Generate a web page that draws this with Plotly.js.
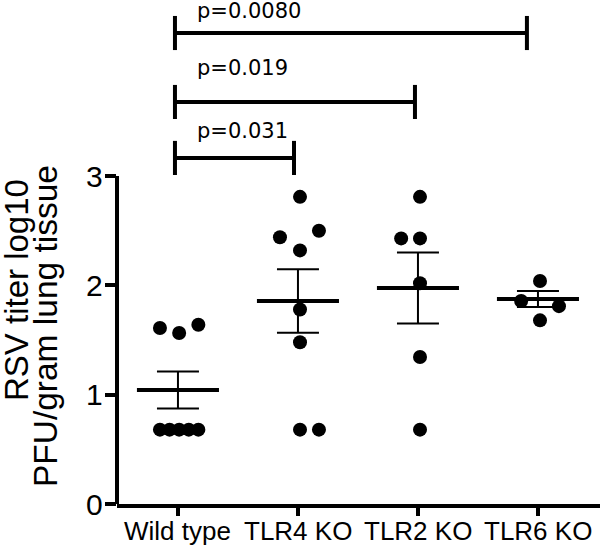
<!DOCTYPE html>
<html>
<head>
<meta charset="utf-8">
<script src="https://cdn.plot.ly/plotly-3.0.1.min.js"></script>
<style>
html, body { margin: 0; padding: 0; background: #fff; }
#chart { width: 600px; height: 545px; }
</style>
</head>
<body>
<div id="chart"></div>
<script>
// ---- data ----
const categories = ['Wild type', 'TLR4 KO', 'TLR2 KO', 'TLR6 KO'];
const wtValues   = [1.61, 1.565, 1.64, 0.68, 0.68, 0.68, 0.68, 0.68];
const tlr4Values = [2.81, 2.44, 2.50, 2.32, 1.78, 1.48, 0.68, 0.68];
const tlr2Values = [2.81, 2.43, 2.43, 2.02, 1.345, 0.68];
const tlr6Values = [2.04, 1.857, 1.81, 1.68];
const groupMeans = [1.043, 1.857, 1.976, 1.875];
const groupSEM   = [0.17, 0.29, 0.325, 0.073];
const pLabels    = ['p=0.031', 'p=0.019', 'p=0.0080'];
const yTickVals  = [0, 1, 2, 3];
const yTitleLines = ['RSV titer log10', 'PFU/gram lung tissue'];

// ---- layout helpers (positions, not data) ----
const wtJitter   = [-0.15, 0.01, 0.17, -0.15, -0.07, 0.01, 0.09, 0.17];
const tlr4Jitter = [0.017, -0.15, 0.175, 0.017, 0.017, 0.017, 0.017, 0.175];
const tlr2Jitter = [0.017, -0.14, 0.017, 0.017, 0.017, 0.017];
const tlr6Jitter = [0.017, -0.14, 0.175, 0.017];
const bracketLeft = -0.025;
const bracketRight = [0.967, 1.975, 2.908];
const bracketLevel = [3.166, 3.678, 4.309];
const bracketHalf = 0.156;
const labelLevel = [3.41, 3.993, 4.508];
const catLabelY = -0.054;      // paper units, below the x axis
const yTickLabelX = -0.0245;   // paper units, left of the y axis

const groups = [wtValues, tlr4Values, tlr2Values, tlr6Values];
const jitters = [wtJitter, tlr4Jitter, tlr2Jitter, tlr6Jitter];

const dotX = [], dotY = [];
groups.forEach((vals, gi) => {
  vals.forEach((v, i) => { dotX.push(gi + jitters[gi][i]); dotY.push(v); });
});

const meanTrace = {
  type: 'scatter', mode: 'markers',
  x: categories.map((c, i) => i), y: groupMeans,
  marker: { symbol: 'line-ew', size: 58.6, color: 'black', line: { color: 'black', width: 4 } },
  error_y: { type: 'data', array: groupSEM, visible: true, color: 'black', thickness: 2, width: 21 },
  hoverinfo: 'skip', cliponaxis: false
};
const dotTrace = {
  type: 'scatter', mode: 'markers',
  x: dotX, y: dotY,
  marker: { symbol: 'circle', size: 14, color: 'black' },
  cliponaxis: false
};

const shapes = [];
// y axis line from 0 to 3
shapes.push({ type: 'line', xref: 'paper', yref: 'y', x0: 0, x1: 0, y0: 0, y1: yTickVals[yTickVals.length - 1],
  line: { color: 'black', width: 4 } });
bracketRight.forEach((xr, i) => {
  const y = bracketLevel[i];
  shapes.push({ type: 'line', xref: 'x', yref: 'y', x0: bracketLeft, x1: xr, y0: y, y1: y, line: { color: 'black', width: 4 } });
  shapes.push({ type: 'line', xref: 'x', yref: 'y', x0: bracketLeft, x1: bracketLeft, y0: y - bracketHalf, y1: y + bracketHalf, line: { color: 'black', width: 4 } });
  shapes.push({ type: 'line', xref: 'x', yref: 'y', x0: xr, x1: xr, y0: y - bracketHalf, y1: y + bracketHalf, line: { color: 'black', width: 4 } });
});

const annotations = pLabels.map((t, i) => ({
  text: t, xref: 'x', yref: 'y', x: 0.142, y: labelLevel[i],
  xanchor: 'left', yanchor: 'middle', showarrow: false,
  font: { family: 'DejaVu Sans', size: 21, color: 'black' }
}));
categories.forEach((c, i) => annotations.push({
  text: c, xref: 'x', yref: 'paper', x: i, y: catLabelY,
  xanchor: 'center', yanchor: 'middle', showarrow: false,
  font: { family: 'Liberation Sans', size: 26, color: 'black' }
}));
yTickVals.forEach(v => annotations.push({
  text: String(v), xref: 'paper', yref: 'y', x: yTickLabelX, y: v,
  xanchor: 'right', yanchor: 'middle', showarrow: false,
  font: { family: 'Liberation Sans', size: 30, color: 'black' }
}));
annotations.push({ text: yTitleLines[0], xref: 'paper', yref: 'paper', x: -0.209, y: 0.4246,
  xanchor: 'center', yanchor: 'middle', textangle: -90, showarrow: false,
  font: { family: 'Liberation Sans', size: 33, color: 'black' } });
annotations.push({ text: yTitleLines[1], xref: 'paper', yref: 'paper', x: -0.149, y: 0.353,
  xanchor: 'center', yanchor: 'middle', textangle: -90, showarrow: false,
  font: { family: 'Liberation Sans', size: 33.5, color: 'black' } });

const layout = {
  width: 600, height: 545,
  margin: { l: 117, r: 0, t: 0, b: 41 },
  paper_bgcolor: 'white', plot_bgcolor: 'white',
  showlegend: false,
  xaxis: {
    range: [-0.508, 3.517], showgrid: false, zeroline: false,
    showline: true, linecolor: 'black', linewidth: 4,
    tickmode: 'array', tickvals: categories.map((c, i) => i), ticktext: categories,
    showticklabels: false,
    ticks: 'outside', ticklen: 8, tickwidth: 4, tickcolor: 'black'
  },
  yaxis: {
    range: [0, 4.611], showgrid: false, zeroline: false, showline: false,
    tickmode: 'array', tickvals: yTickVals, ticktext: yTickVals.map(String),
    showticklabels: false,
    ticks: 'outside', ticklen: 11, tickwidth: 4, tickcolor: 'black'
  },
  shapes: shapes,
  annotations: annotations
};

Plotly.newPlot('chart', [meanTrace, dotTrace], layout, { displayModeBar: false, staticPlot: true });
</script>
</body>
</html>
